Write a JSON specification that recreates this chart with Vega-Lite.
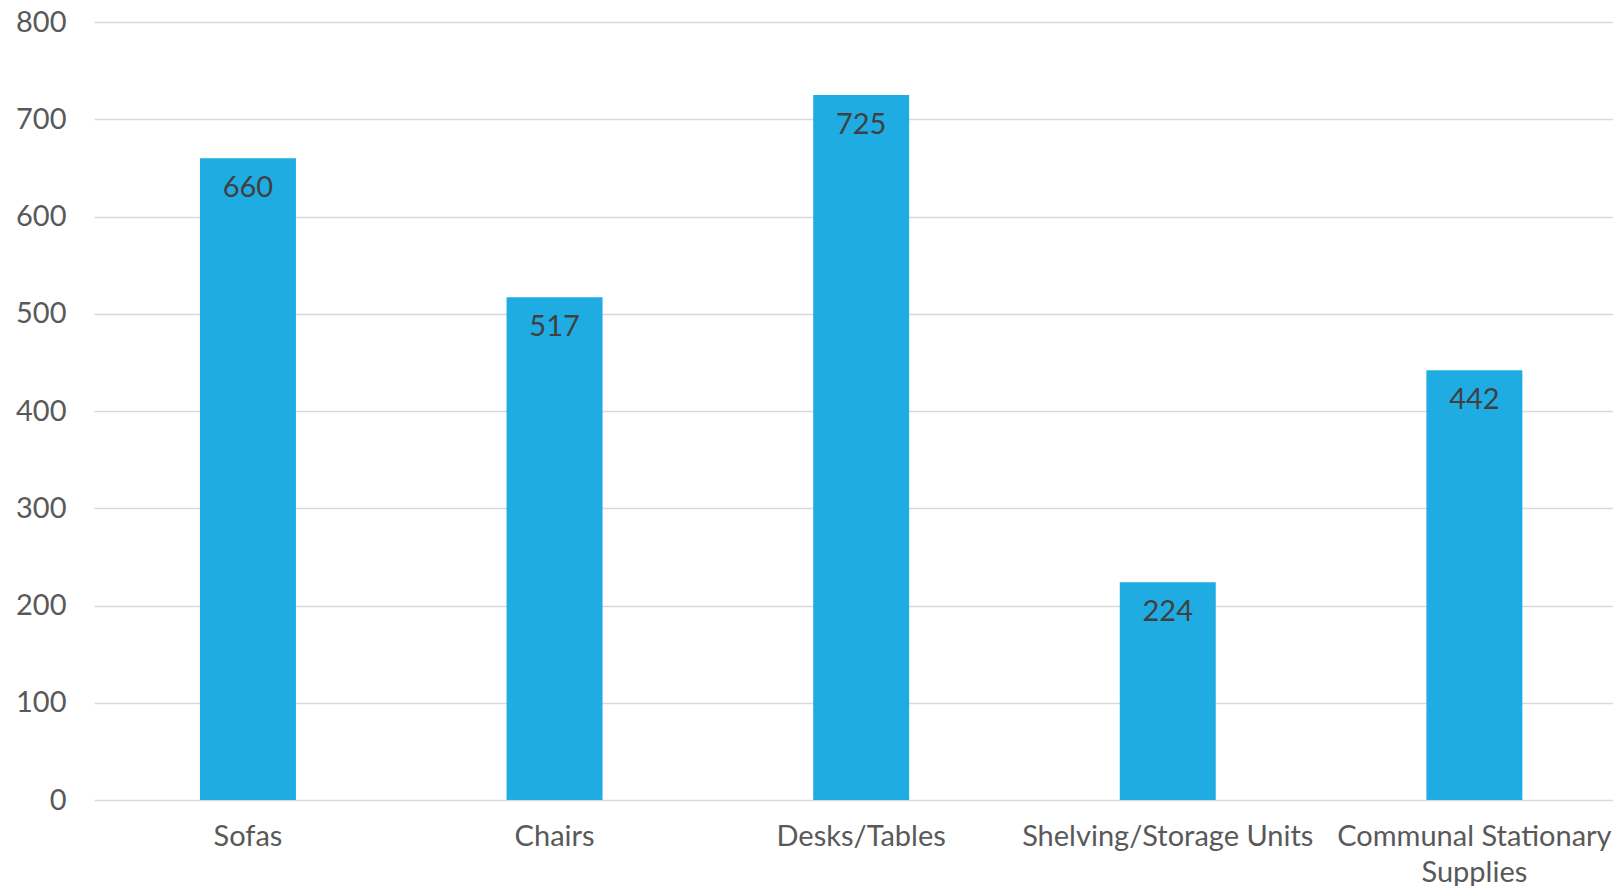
{
  "$schema": "https://vega.github.io/schema/vega-lite/v6.json",
  "autosize": {"type": "none"},
  "padding": {"left": 94, "top": 22, "right": 0, "bottom": 86},
  "width": 1519,
  "height": 778,
  "background": "white",
  "config": {
    "view": {"stroke": null},
    "font": "Lato"
  },
  "data": {
    "values": [
      {"category": "Sofas", "value": 660},
      {"category": "Chairs", "value": 517},
      {"category": "Desks/Tables", "value": 725},
      {"category": "Shelving/Storage Units", "value": 224},
      {"category": "Communal Stationary Supplies", "value": 442}
    ]
  },
  "encoding": {
    "x": {
      "field": "category",
      "type": "nominal",
      "sort": null,
      "scale": {"paddingInner": 0.687, "paddingOuter": 0.3206, "align": 0.539},
      "axis": {
        "title": null,
        "labelAngle": 0,
        "ticks": false,
        "domain": false,
        "labelFont": "Lato",
        "labelFontSize": 29,
        "labelColor": "#595959",
        "labelPadding": 22,
        "labelBaseline": "top",
        "labelLineHeight": 36,
        "labelLimit": 0,
        "labelOverlap": false,
        "labelExpr": "datum.label == 'Communal Stationary Supplies' ? ['Communal Stationary', 'Supplies'] : datum.label"
      }
    },
    "y": {
      "field": "value",
      "type": "quantitative",
      "scale": {"domain": [0, 800], "nice": false},
      "axis": {
        "title": null,
        "values": [0, 100, 200, 300, 400, 500, 600, 700, 800],
        "ticks": false,
        "domain": false,
        "grid": true,
        "gridColor": "#d9d9d9",
        "gridWidth": 1.5,
        "labelFont": "Lato",
        "labelFontSize": 29,
        "labelColor": "#595959",
        "labelPadding": 28
      }
    }
  },
  "layer": [
    {
      "mark": {"type": "bar", "color": "#1FACE3"}
    },
    {
      "mark": {
        "type": "text",
        "baseline": "top",
        "align": "center",
        "dy": 16,
        "font": "Lato",
        "fontSize": 29,
        "color": "#404040"
      },
      "encoding": {
        "text": {"field": "value", "type": "quantitative"}
      }
    }
  ]
}
